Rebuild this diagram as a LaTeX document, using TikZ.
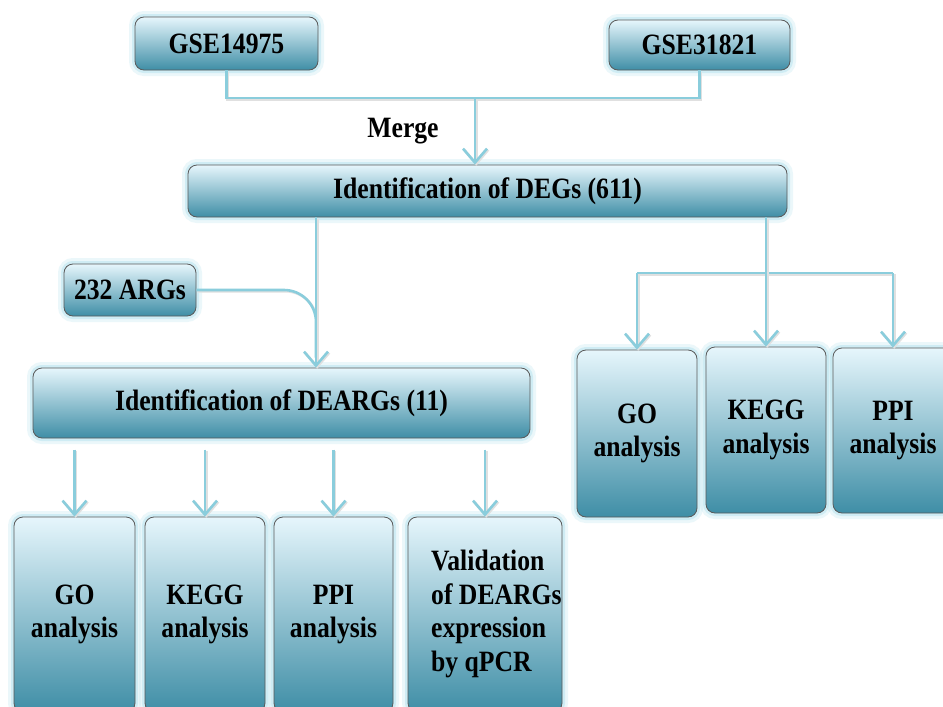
\documentclass[tikz,border=0pt]{standalone}
\usepackage{fontspec}
\setmainfont{Liberation Serif}[FakeStretch=0.87]
\usetikzlibrary{arrows.meta}
\definecolor{lineblue}{HTML}{8ACDDC}
\definecolor{boxtop}{HTML}{E6F6FC}
\definecolor{boxmid}{HTML}{B2DFEB}
\definecolor{boxbot}{HTML}{3F8EA6}
\definecolor{glow}{HTML}{BDE6F0}
\tikzset{
  box/.style={rectangle, rounded corners=9pt, draw=black!65, line width=0.8pt,
    top color=boxtop, middle color=boxmid, bottom color=boxbot,
    font=\bfseries\fontsize{29.5}{33.5}\selectfont, inner sep=0pt, align=center,
    preaction={draw=glow, line width=12pt, opacity=0.3},
    preaction={draw=glow, line width=6pt, opacity=0.6}},
  conn/.style={draw=lineblue, line width=2.6pt,
    preaction={draw=black!12, line width=2.6pt, transform canvas={shift={(1.2pt,-1.2pt)}}}},
  arr/.style={conn, -{Straight Barb[length=14pt,width=24pt]}},
  lbl/.style={font=\bfseries\fontsize{29.5}{33.5}\selectfont, inner sep=0pt, align=left}
}
\begin{document}
\begin{tikzpicture}[x=1pt,y=-1pt]
\clip (0,0) rectangle (943,707);
\fill[white] (0,0) rectangle (943,707);

% top sources
\node[box, minimum width=183pt, minimum height=53pt] (g1) at (226.5,43.5) {GSE14975};
\node[box, minimum width=181pt, minimum height=50pt] (g2) at (699.5,45) {GSE31821};
\node[lbl] (merge) at (403,131) {Merge};

\node[box, minimum width=599pt, minimum height=52pt] (degs) at (487.5,191) {Identification of DEGs (611)};
\node[box, minimum width=132pt, minimum height=52pt] (args) at (130,290) {232 ARGs};
\node[box, minimum width=497pt, minimum height=70pt] (dearg) at (281.5,403) {Identification of DEARGs (11)};

% bottom left boxes
\node[box, minimum width=121pt, minimum height=195pt] (go1) at (74.5,614.5) {GO\\analysis};
\node[box, minimum width=120pt, minimum height=195pt] (kegg1) at (205,614.5) {KEGG\\analysis};
\node[box, minimum width=119pt, minimum height=195pt] (ppi1) at (333.5,614.5) {PPI\\analysis};
\node[box, minimum width=154pt, minimum height=195pt] (val) at (485,614.5) {};
\node[lbl, anchor=west] (valtxt) at (431,614) {Validation\\of DEARGs\\expression\\by qPCR};

% right boxes
\node[box, minimum width=120pt, minimum height=167pt] (go2) at (637,433.5) {GO\\analysis};
\node[box, minimum width=120pt, minimum height=166pt] (kegg2) at (766,430) {KEGG\\analysis};
\node[box, minimum width=120pt, minimum height=165pt] (ppi2) at (893,430.5) {PPI\\analysis};

% merge connector
\coordinate (mj) at (475,98);
\draw[conn] (g1.south) |- (mj) -| (g2.south);
\draw[arr] (mj) -- (mj |- degs.north);

% DEGs to DEARGs
\coordinate (x316) at (316,0);
\draw[conn, rounded corners=32pt] (args.east) -| ([yshift=10pt]x316 |- dearg.north);
\draw[arr] (degs.south -| x316) -- (dearg.north -| x316);

% DEARGs to analyses
\draw[arr] ([yshift=67pt]go1.north) -- (go1.north);
\draw[arr] ([yshift=67pt]kegg1.north) -- (kegg1.north);
\draw[arr] ([yshift=67pt]ppi1.north) -- (ppi1.north);
\draw[arr] ([yshift=67pt]val.north) -- (val.north);

% right branch
\coordinate (rj) at (764,273);
\draw[conn] (go2.north |- rj) -- (ppi2.north |- rj);
\draw[arr] (kegg2.north |- degs.south) -- (kegg2.north);
\draw[arr] (go2.north |- rj) -- (go2.north);
\draw[arr] (ppi2.north |- rj) -- (ppi2.north);
\end{tikzpicture}
\end{document}
